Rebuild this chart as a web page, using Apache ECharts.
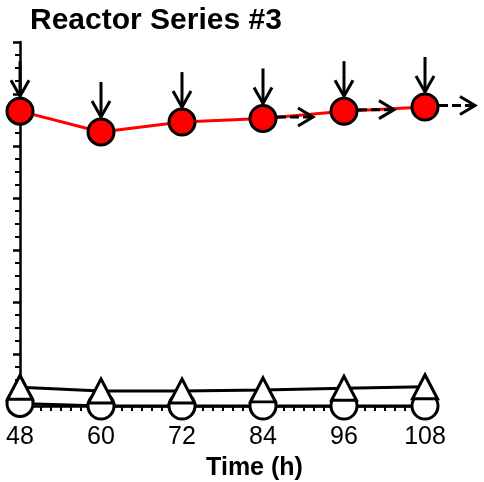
<!DOCTYPE html>
<html>
<head>
<meta charset="utf-8">
<script src="https://cdn.jsdelivr.net/npm/echarts@6/dist/echarts.min.js"></script>
<style>html,body{margin:0;padding:0;background:#fff}#chart{width:484px;height:482px}</style>
</head>
<body>
<div id="chart"></div>
<script>
// ---- data ----
const timeH = [48, 60, 72, 84, 96, 108];
const filledCircles = [5.67, 5.27, 5.46, 5.53, 5.67, 5.75];
const openTriangles = [0.36, 0.29, 0.29, 0.31, 0.34, 0.37];
const openCircles = [0.05, 0, 0, 0, 0, 0];
const downArrowTimes = [48, 60, 72, 84, 96, 108];
const rightArrowTimes = [84, 96, 108];
const xTicks = [48, 60, 72, 84, 96, 108];
const titleText = 'Reactor Series #3';
const xName = 'Time (h)';

const FONT = '"Liberation Sans", Arial, sans-serif';
const pair = (xs, ys) => xs.map((x, i) => [x, ys[i]]);
const lookup = (t) => filledCircles[timeH.indexOf(t)];

const chart = echarts.init(document.getElementById('chart'), null, {renderer: 'canvas'});
chart.setOption({
  backgroundColor: '#fff',
  animation: false,
  title: {
    text: titleText, left: 25, top: 1,
    textStyle: {fontFamily: FONT, fontWeight: 'bold', fontSize: 30, color: '#000'}
  },
  grid: {left: 20, right: 59, top: 42, bottom: 76, containLabel: false, outerBoundsMode: 'none'},
  xAxis: {
    type: 'value', min: xTicks[0], max: xTicks[xTicks.length - 1], interval: 12,
    name: xName, nameLocation: 'middle', nameGap: 50,
    nameTextStyle: {fontFamily: FONT, fontWeight: 'bold', fontSize: 25, color: '#000', padding: [0, 0, 0, 64]},
    axisLine: {lineStyle: {color: '#000', width: 2.5}},
    axisTick: {show: true, inside: false, length: 5, lineStyle: {color: '#000', width: 2}},
    minorTick: {show: true, splitNumber: 8, length: 5, lineStyle: {color: '#000', width: 2}},
    axisLabel: {fontFamily: FONT, fontSize: 25, color: '#000', margin: 19},
    splitLine: {show: false}, minorSplitLine: {show: false}
  },
  yAxis: {
    type: 'value', min: 0, max: 7, interval: 1,
    axisLine: {lineStyle: {color: '#000', width: 2.5}},
    axisTick: {show: true, inside: false, length: 7, lineStyle: {color: '#000', width: 2.5}},
    minorTick: {show: true, splitNumber: 4, length: 5, lineStyle: {color: '#000', width: 2}},
    axisLabel: {show: false},
    splitLine: {show: false}, minorSplitLine: {show: false}
  },
  series: [
    {
      name: 'open circles', type: 'line', data: pair(timeH, openCircles), clip: false, z: 3,
      symbol: 'circle', symbolSize: 26,
      itemStyle: {color: '#fff', borderColor: '#000', borderWidth: 3},
      lineStyle: {color: '#000', width: 3}
    },
    {
      name: 'open triangles', type: 'line', data: pair(timeH, openTriangles), clip: false, z: 4,
      symbol: 'triangle', symbolSize: [25, 24],
      itemStyle: {color: '#fff', borderColor: '#000', borderWidth: 3},
      lineStyle: {color: '#000', width: 3}
    },
    {
      name: 'filled circles', type: 'line', data: pair(timeH, filledCircles), clip: false, z: 5,
      symbol: 'circle', symbolSize: 26,
      itemStyle: {color: '#ff0000', borderColor: '#000', borderWidth: 3},
      lineStyle: {color: '#ff0000', width: 3}
    },
    {
      name: 'down arrows', type: 'custom', coordinateSystem: 'cartesian2d', clip: false, z: 6,
      data: downArrowTimes.map(t => [t, lookup(t)]),
      renderItem: function (params, api) {
        const p = api.coord([api.value(0), api.value(1)]);
        const tipY = p[1] - 15, topY = tipY - 35;
        const st = {stroke: '#000', lineWidth: 3, fill: null, lineJoin: 'miter'};
        return {type: 'group', children: [
          {type: 'line', shape: {x1: p[0], y1: topY, x2: p[0], y2: tipY}, style: st},
          {type: 'polyline', shape: {points: [[p[0] - 9, tipY - 16], [p[0], tipY], [p[0] + 9, tipY - 16]]}, style: st}
        ]};
      }
    },
    {
      name: 'right arrows', type: 'custom', coordinateSystem: 'cartesian2d', clip: false, z: 7,
      data: rightArrowTimes.map(t => [t, lookup(t)]),
      renderItem: function (params, api) {
        const p = api.coord([api.value(0), api.value(1)]);
        const y = p[1] - 1.5, x0 = p[0] + 14, tipX = p[0] + 50;
        return {type: 'group', children: [
          {type: 'line', shape: {x1: x0, y1: y, x2: tipX, y2: y},
           style: {stroke: '#000', lineWidth: 3, lineDash: [9, 4]}},
          {type: 'polyline', shape: {points: [[tipX - 15, y - 9], [tipX, y], [tipX - 15, y + 9]]},
           style: {stroke: '#000', lineWidth: 3, fill: null, lineJoin: 'miter'}}
        ]};
      }
    }
  ]
});
</script>
</body>
</html>
